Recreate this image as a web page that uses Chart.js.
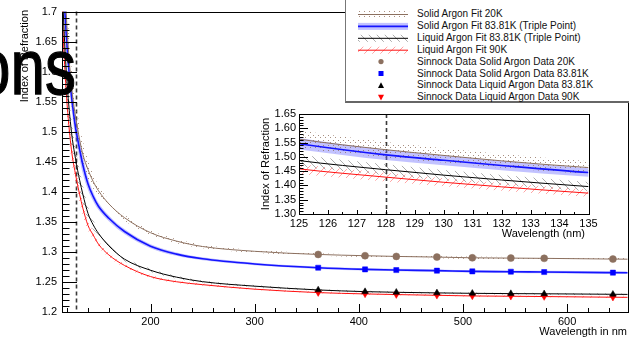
<!DOCTYPE html>
<html>
<head>
<meta charset="utf-8">
<script src="https://cdn.jsdelivr.net/npm/chart.js@4.4.1/dist/chart.umd.min.js"></script>
<style>
html, body { margin:0; padding:0; background:#fff; width:629px; height:341px; overflow:hidden; position:relative; font-family:"Liberation Sans", Arial, sans-serif; }
#mainChart { position:absolute; left:0; top:0; }
#insetPad { position:absolute; left:252px; top:104px; width:368px; height:141px; background:#fff; }
#legend { position:absolute; left:345px; top:-3px; width:300px; height:103px; background:#fff; border:1px solid #777; border-bottom:2px solid #666; }
#legendSymbols { position:absolute; left:10px; top:0; }
.lrow { position:absolute; left:71px; height:12px; line-height:12px; font-size:10px; color:#111; white-space:nowrap; }
#slideText { position:absolute; left:-24px; top:29px; font:62px "Liberation Sans", Arial, sans-serif; line-height:62px; color:#000; transform:scaleY(1.25); transform-origin:0 0; white-space:nowrap; -webkit-text-stroke:1px #000; }
</style>
</head>
<body>
<canvas id="mainChart" width="632" height="341"></canvas>
<div id="insetPad"><canvas id="insetChart" width="368" height="141"></canvas></div>
<div id="legend"><canvas id="legendSymbols" width="60" height="104"></canvas></div>
<div id="slideText">ons</div>
<script>
// fit curves (wavelength in nm)
const wavelengths = [115,116,117,118,119,120,121,122,123,125,128,130,132,135,140,145,150,160,175,200,225,250,300,361,406,436,475,509,546,578,644,665];
const solid20Fit  = [1.904,1.837,1.782,1.737,1.700,1.668,1.641,1.617,1.597,1.562,1.525,1.505,1.486,1.4625,1.437,1.417,1.402,1.380,1.357,1.332,1.318,1.309,1.301,1.2958,1.2937,1.2925,1.2914,1.2902,1.2897,1.2893,1.2881,1.2878];
const solid84Fit  = [1.807,1.764,1.727,1.694,1.665,1.640,1.617,1.596,1.578,1.546,1.507,1.488,1.470,1.445,1.413,1.392,1.376,1.356,1.334,1.3095,1.2963,1.2885,1.2800,1.2737,1.2709,1.2698,1.2688,1.2676,1.2671,1.2665,1.2655,1.2652];
const liquid84Fit = [1.758,1.709,1.668,1.633,1.604,1.578,1.555,1.535,1.517,1.487,1.455,1.436,1.419,1.396,1.364,1.345,1.331,1.310,1.288,1.2695,1.258,1.2505,1.2430,1.2367,1.2339,1.2328,1.2318,1.2311,1.2306,1.2303,1.2295,1.2292];
const liquid90Fit = [1.715,1.668,1.629,1.596,1.568,1.543,1.522,1.503,1.486,1.458,1.429,1.411,1.395,1.373,1.344,1.328,1.313,1.295,1.2775,1.2590,1.2503,1.2455,1.2380,1.2323,1.2301,1.2290,1.2278,1.2267,1.2262,1.2257,1.2246,1.2243];

// half widths of the error bands
const solid20Err  = [0.06,0.056,0.052,0.048,0.045,0.042,0.039,0.037,0.035,0.031,0.027,0.025,0.024,0.022,0.016,0.012,0.009,0.0065,0.005,0.004,0.0035,0.003,0.0025,0.002,0.002,0.002,0.002,0.002,0.002,0.002,0.002,0.002];
const solid84Err  = [0.04,0.037,0.034,0.032,0.030,0.028,0.026,0.024,0.023,0.020,0.018,0.017,0.0165,0.015,0.010,0.0075,0.006,0.0048,0.004,0.0032,0.0028,0.0025,0.002,0.002,0.002,0.002,0.002,0.002,0.002,0.002,0.002,0.002];
const liquid84Err = [0.04,0.037,0.034,0.032,0.030,0.028,0.026,0.024,0.023,0.021,0.019,0.018,0.0175,0.016,0.011,0.008,0.006,0.0045,0.0035,0.003,0.0025,0.002,0.0018,0.0015,0.0015,0.0015,0.0015,0.0015,0.0015,0.0015,0.0015,0.0015];
const liquid90Err = [0.03,0.028,0.026,0.025,0.023,0.022,0.021,0.020,0.019,0.017,0.015,0.014,0.0135,0.0125,0.0085,0.0065,0.005,0.0038,0.003,0.0025,0.002,0.0018,0.0015,0.0012,0.0012,0.0012,0.0012,0.0012,0.0012,0.0012,0.0012,0.0012];

// Sinnock data points
const sinnockWl    = [361,406,436,475,509,546,578,644];
const solid20Data  = [1.2958,1.2937,1.2925,1.2914,1.2902,1.2897,1.2893,1.2881];
const solid84Data  = [1.2737,1.2709,1.2698,1.2688,1.2676,1.2671,1.2665,1.2655];
const liquid84Data = [1.2367,1.2339,1.2328,1.2318,1.2311,1.2306,1.2303,1.2295];
const liquid90Data = [1.2323,1.2301,1.2290,1.2278,1.2267,1.2262,1.2257,1.2246];

const mainXTicks  = [200,300,400,500,600];
const mainYTicks  = [1.2,1.25,1.3,1.35,1.4,1.45,1.5,1.55,1.6,1.65,1.7];
const insetXTicks = [125,126,127,128,129,130,131,132,133,134,135];
const insetYTicks = [1.30,1.35,1.40,1.45,1.50,1.55,1.60,1.65];

const legendLabels = [
    'Solid Argon Fit 20K',
    'Solid Argon Fit 83.81K (Triple Point)',
    'Liquid Argon Fit 83.81K (Triple Point)',
    'Liquid Argon Fit 90K',
    'Sinnock Data Solid Argon Data 20K',
    'Sinnock Data Solid Argon Data 83.81K',
    'Sinnock Data Liquid Argon Data 83.81K',
    'Sinnock Data Liquid Argon Data 90K'
];

const FONT = '"Liberation Sans", Arial, sans-serif';
const BROWN = '#8c705f';

function makePattern(kind, color) {
    const c = document.createElement('canvas');
    const s = kind === 'dots' ? 5 : 8;
    c.width = s; c.height = s;
    const g = c.getContext('2d');
    g.strokeStyle = color;
    g.fillStyle = color;
    g.lineWidth = 1;
    if (kind === 'dots') {
        g.fillRect(1, 1, 1, 1);
        g.fillRect(3, 3, 1, 1);
    } else if (kind === 'back') {
        g.beginPath(); g.moveTo(0, 0); g.lineTo(s, s); g.stroke();
        g.beginPath(); g.moveTo(-2, s - 2); g.lineTo(2, s + 2); g.stroke();
        g.beginPath(); g.moveTo(s - 2, -2); g.lineTo(s + 2, 2); g.stroke();
    } else {
        g.beginPath(); g.moveTo(0, s); g.lineTo(s, 0); g.stroke();
        g.beginPath(); g.moveTo(-2, 2); g.lineTo(2, -2); g.stroke();
        g.beginPath(); g.moveTo(s - 2, s + 2); g.lineTo(s + 2, s - 2); g.stroke();
    }
    return g.createPattern(c, 'repeat');
}

const fits = [
    { values: solid20Fit, err: solid20Err, color: BROWN, width: 1, band: makePattern('dots', 'rgba(140,105,85,0.75)') },
    { values: solid84Fit, err: solid84Err, color: '#1414ff', width: 1.6, band: 'rgba(110,110,255,0.42)' },
    { values: liquid84Fit, err: liquid84Err, color: '#000', width: 1, band: makePattern('back', 'rgba(90,90,90,0.5)') },
    { values: liquid90Fit, err: liquid90Err, color: '#ff1010', width: 1, band: makePattern('fwd', 'rgba(255,90,90,0.55)') }
];

const markers = [
    { values: solid20Data, color: BROWN, style: 'circle', radius: 3.5, rot: 0 },
    { values: solid84Data, color: '#0000ff', style: 'rect', radius: 3.6, rot: 0 },
    { values: liquid84Data, color: '#000', style: 'triangle', radius: 3.8, rot: 0 },
    { values: liquid90Data, color: '#ff0000', style: 'triangle', radius: 3.8, rot: 180 }
];

function buildDatasets(withMarkers) {
    const sets = [];
    fits.forEach(f => {
        sets.push({
            data: wavelengths.map((w, i) => ({ x: w, y: f.values[i] + f.err[i] })),
            borderWidth: 0, pointRadius: 0, fill: false, order: 3,
            cubicInterpolationMode: 'monotone'
        });
        sets.push({
            data: wavelengths.map((w, i) => ({ x: w, y: f.values[i] - f.err[i] })),
            borderWidth: 0, pointRadius: 0, fill: '-1', backgroundColor: f.band, order: 3,
            cubicInterpolationMode: 'monotone'
        });
    });
    fits.forEach(f => {
        sets.push({
            data: wavelengths.map((w, i) => ({ x: w, y: f.values[i] })),
            borderColor: f.color, borderWidth: f.width, pointRadius: 0, fill: false, order: 1,
            cubicInterpolationMode: 'monotone'
        });
    });
    if (withMarkers) {
        markers.forEach(m => {
            sets.push({
                type: 'scatter',
                data: sinnockWl.map((w, i) => ({ x: w, y: m.values[i] })),
                showLine: false, pointStyle: m.style, pointRadius: m.radius, pointRotation: m.rot,
                backgroundColor: m.color, borderColor: m.color, borderWidth: 0.5, order: 0
            });
        });
    }
    return sets;
}

function framePlugin(cfg) {
    return {
        id: 'rootFrame',
        beforeDatasetsDraw(chart) {
            const ctx = chart.ctx;
            const a = chart.chartArea;
            const x = Math.round(chart.scales.x.getPixelForValue(128)) + 0.5;
            ctx.save();
            ctx.strokeStyle = '#3a3a3a';
            ctx.lineWidth = 1.6;
            ctx.setLineDash([4, 3]);
            ctx.beginPath(); ctx.moveTo(x, a.top); ctx.lineTo(x, a.bottom); ctx.stroke();
            ctx.restore();
        },
        afterDraw(chart) {
            const ctx = chart.ctx;
            const a = chart.chartArea;
            const xs = chart.scales.x, ys = chart.scales.y;
            ctx.save();
            ctx.strokeStyle = '#000';
            ctx.lineWidth = 1;
            ctx.strokeRect(Math.round(a.left) + 0.5, Math.round(a.top) + 0.5,
                Math.round(a.right - a.left), Math.round(a.bottom - a.top));
            ctx.beginPath();
            cfg.xMinor.forEach(v => {
                const px = Math.round(xs.getPixelForValue(v)) + 0.5;
                const len = cfg.xMajor.includes(v) ? cfg.xMajorLen : cfg.xMajorLen / 2;
                ctx.moveTo(px, a.bottom); ctx.lineTo(px, a.bottom - len);
            });
            cfg.yMinor.forEach(v => {
                const py = Math.round(ys.getPixelForValue(v)) + 0.5;
                const major = cfg.yMajor.some(t => Math.abs(t - v) < 1e-6);
                const len = major ? cfg.yMajorLen : cfg.yMajorLen / 2;
                ctx.moveTo(a.left, py); ctx.lineTo(a.left + len, py);
            });
            ctx.stroke();
            ctx.fillStyle = '#000';
            ctx.font = '11px ' + FONT;
            ctx.textAlign = 'right';
            ctx.textBaseline = 'alphabetic';
            ctx.fillText(cfg.xTitle, cfg.xTitleX, cfg.xTitleY);
            ctx.translate(cfg.yTitleX, cfg.yTitleY);
            ctx.rotate(-Math.PI / 2);
            ctx.textAlign = cfg.yTitleAlign;
            ctx.fillText('Index of Refraction', 0, 0);
            ctx.restore();
        }
    };
}

function range(from, to, step) {
    const out = [];
    for (let v = from; v <= to + 1e-9; v += step) out.push(Math.round(v * 1000) / 1000);
    return out;
}

function axisOptions(min, max, ticks, fmt, fitSize, pad) {
    return {
        type: 'linear', min: min, max: max,
        grid: { display: false, drawTicks: false },
        border: { display: false },
        afterBuildTicks: s => { s.ticks = ticks.map(v => ({ value: v })); },
        afterFit: fitSize,
        ticks: { color: '#000', font: { family: FONT, size: 11 }, padding: pad, autoSkip: false, maxRotation: 0, callback: fmt }
    };
}

const baseOptions = {
    responsive: false, animation: false, events: [],
    plugins: { legend: { display: false }, tooltip: { enabled: false } }
};

new Chart(document.getElementById('mainChart'), {
    type: 'line',
    data: { datasets: buildDatasets(true) },
    options: Object.assign({}, baseOptions, {
        layout: { padding: { top: 7, right: 2.5, left: 0, bottom: 0 } },
        scales: {
            x: axisOptions(115, 658, mainXTicks, v => String(v), s => { s.height = 29; }, 3),
            y: axisOptions(1.2, 1.7, mainYTicks, v => String(Number(v.toFixed(2))), s => { s.width = 62; }, 5)
        }
    }),
    plugins: [framePlugin({
        xMajor: mainXTicks, xMinor: range(120, 640, 20), xMajorLen: 8,
        yMajor: mainYTicks, yMinor: range(1.2, 1.7, 0.01), yMajorLen: 15,
        xTitle: 'Wavelength in nm', xTitleX: 627, xTitleY: 335,
        yTitleX: 28, yTitleY: 10, yTitleAlign: 'right'
    })]
});

new Chart(document.getElementById('insetChart'), {
    type: 'line',
    data: { datasets: buildDatasets(false) },
    options: Object.assign({}, baseOptions, {
        layout: { padding: { top: 10, right: 31.5, left: 0, bottom: 0 } },
        scales: {
            x: axisOptions(125, 135, insetXTicks, v => String(v), s => { s.height = 31; }, 3),
            y: axisOptions(1.30, 1.65, insetYTicks, v => v.toFixed(2), s => { s.width = 47; }, 3)
        }
    }),
    plugins: [framePlugin({
        xMajor: insetXTicks, xMinor: range(125, 135, 0.5), xMajorLen: 4,
        yMajor: insetYTicks, yMinor: range(1.30, 1.65, 0.01), yMajorLen: 9,
        xTitle: 'Wavelength (nm)', xTitleX: 333, xTitleY: 133,
        yTitleX: 17, yTitleY: 60, yTitleAlign: 'center'
    })]
});

// legend
(function drawLegend() {
    const box = document.getElementById('legend');
    const rowTop = 16;
    const rowStep = 11.9;
    legendLabels.forEach((t, i) => {
        const d = document.createElement('div');
        d.className = 'lrow';
        d.style.top = (rowTop + i * rowStep - 6) + 'px';
        d.textContent = t;
        box.appendChild(d);
    });
    const g = document.getElementById('legendSymbols').getContext('2d');
    fits.forEach((f, i) => {
        const cy = rowTop + i * rowStep;
        g.fillStyle = f.band;
        g.fillRect(2, cy - 3, 50, 7);
        g.strokeStyle = f.color;
        g.lineWidth = f.width;
        g.beginPath(); g.moveTo(2, cy + 0.5); g.lineTo(52, cy + 0.5); g.stroke();
    });
    markers.forEach((m, i) => {
        const cy = rowTop + (i + 4) * rowStep;
        g.fillStyle = m.color;
        g.beginPath();
        if (m.style === 'circle') {
            g.arc(25, cy, 2.6, 0, Math.PI * 2);
        } else if (m.style === 'rect') {
            g.rect(22.5, cy - 2.5, 5, 5);
        } else if (m.rot === 0) {
            g.moveTo(25, cy - 3.2); g.lineTo(28, cy + 2.5); g.lineTo(22, cy + 2.5);
        } else {
            g.moveTo(25, cy + 3.2); g.lineTo(28, cy - 2.5); g.lineTo(22, cy - 2.5);
        }
        g.fill();
    });
})();
</script>
</body>
</html>
